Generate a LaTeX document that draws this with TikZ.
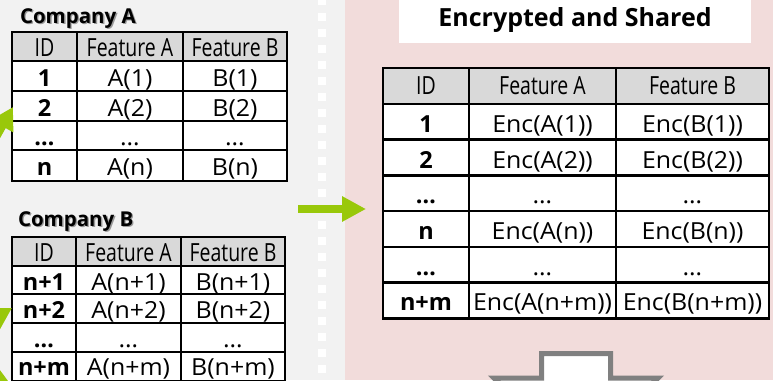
\documentclass[tikz,border=0pt]{standalone}
\usepackage{fontspec}
\usetikzlibrary{arrows.meta}
\setmainfont{Open Sans}
\newfontfamily\valfont{Open Sans}[FakeStretch=1.06]
\newfontfamily\hdfont{Open Sans}[FakeStretch=0.78]

\definecolor{leftbg}{RGB}{242,242,242}
\definecolor{rightbg}{RGB}{242,220,219}
\definecolor{hdrgray}{RGB}{217,217,217}
\definecolor{arrowgreen}{RGB}{153,200,10}
\definecolor{blockgray}{RGB}{128,128,128}

\tikzset{
  gridline/.style={line width=2.6pt, line cap=rect},
  txt/.style={anchor=base, inner sep=0pt, outer sep=0pt},
  hdr/.style={txt, font=\hdfont\fontsize{25}{25}\selectfont},
  idc/.style={txt, font=\bfseries\fontsize{23.5}{23.5}\selectfont},
  val/.style={txt, font=\valfont\fontsize{23.5}{23.5}\selectfont},
  label/.style={anchor=base west, inner sep=0pt, outer sep=0pt, font=\bfseries\fontsize{20.5}{20.5}\selectfont},
  shadowtxt/.style={label, text=black!40},
  greenarrow/.style={arrowgreen, line width=8pt, -{Triangle[length=22pt, width=24pt]}},
}

\begin{document}
\begin{tikzpicture}[x=1pt, y=-1pt]
\useasboundingbox (0,0) rectangle (773,380);
\clip (0,0) rectangle (773,380);

% backgrounds and the dashed divider
\fill[leftbg] (0,0) rectangle (345,380);
\fill[rightbg] (345,0) rectangle (773,380);
\draw[white, line width=8pt, dash pattern=on 8pt off 8pt] (322,-3) -- (322,384);

% ---------------- Company A ----------------
\node[shadowtxt] (labAsh) at (21.3,24.6) {Company A};
\node[label] (labA) at (20,23.3) {Company A};
\fill[white] (12,32) rectangle (287,181);
\fill[hdrgray] (12,32) rectangle (287,61);
\foreach \x in {12,77,183,287} \draw[gridline] (\x,32) -- (\x,181);
\foreach \y in {32,61,91,121,150,181} \draw[gridline] (12,\y) -- (287,\y);
\node[hdr] (A-h1) at (44.5,56.5) {ID};
\node[hdr] (A-h2) at (130,56.5) {Feature A};
\node[hdr] (A-h3) at (235,56.5) {Feature B};
\node[idc] (A-11) at (44.5,86.5) {1};
\node[val] (A-12) at (130,86.5) {A(1)};
\node[val] (A-13) at (235,86.5) {B(1)};
\node[idc] (A-21) at (44.5,116.5) {2};
\node[val] (A-22) at (130,116.5) {A(2)};
\node[val] (A-23) at (235,116.5) {B(2)};
\node[idc] (A-31) at (44.5,145.5) {…};
\node[val] (A-32) at (130,145.5) {…};
\node[val] (A-33) at (235,145.5) {…};
\node[idc] (A-41) at (44.5,175.5) {n};
\node[val] (A-42) at (130,175.5) {A(n)};
\node[val] (A-43) at (235,175.5) {B(n)};

% ---------------- Company B ----------------
\node[shadowtxt] (labBsh) at (19.3,227.3) {Company B};
\node[label] (labB) at (18,226) {Company B};
\fill[white] (12,237) rectangle (285,381);
\fill[hdrgray] (12,237) rectangle (285,266);
\foreach \x in {12,76,181,285} \draw[gridline] (\x,237) -- (\x,381);
\foreach \y in {237,266,294,323,352,381} \draw[gridline] (12,\y) -- (285,\y);
\node[hdr] (B-h1) at (44,261.5) {ID};
\node[hdr] (B-h2) at (128.5,261.5) {Feature A};
\node[hdr] (B-h3) at (233,261.5) {Feature B};
\node[idc] (B-11) at (44,290) {n+1};
\node[val] (B-12) at (128.5,290) {A(n+1)};
\node[val] (B-13) at (233,290) {B(n+1)};
\node[idc] (B-21) at (44,318.5) {n+2};
\node[val] (B-22) at (128.5,318.5) {A(n+2)};
\node[val] (B-23) at (233,318.5) {B(n+2)};
\node[idc] (B-31) at (44,347.5) {…};
\node[val] (B-32) at (128.5,347.5) {…};
\node[val] (B-33) at (233,347.5) {…};
\node[idc] (B-41) at (44,375.5) {n+m};
\node[val] (B-42) at (128.5,375.5) {A(n+m)};
\node[val] (B-43) at (233,375.5) {B(n+m)};

% green arrows entering from the left edge
\coordinate (srcA) at (-27,178);
\coordinate (tipA) at (13,107);
\coordinate (srcB) at (-60,350);
\coordinate (tipB) at (12,308);
\coordinate (srcC) at (-60,356);
\coordinate (tipC) at (12,386);
\draw[greenarrow] (srcA) -- (tipA);
\draw[greenarrow] (srcB) -- (tipB);
\draw[greenarrow] (srcC) -- (tipC);

% arrow towards the shared table
\coordinate (midS) at (298,209);
\coordinate (midT) at (366,209);
\draw[arrowgreen, line width=8pt, -{Triangle[length=24pt, width=24pt]}] (midS) -- (midT);

% ---------------- Encrypted and Shared ----------------
\fill[white] (399,-5) rectangle (751,43);
\node[txt, font=\bfseries\fontsize{25}{25}\selectfont] (title) at (575,26) {Encrypted and Shared};

\fill[white] (383,68) rectangle (769,318.3);
\fill[hdrgray] (383,68) rectangle (769,104);
\foreach \x in {383,469,616,769} \draw[gridline] (\x,68) -- (\x,318.3);
\foreach \y in {68,104,139.7,175.4,211.1,246.9,282.6,318.3} \draw[gridline] (383,\y) -- (769,\y);
\node[hdr] (S-h1) at (426,94) {ID};
\node[hdr] (S-h2) at (542.5,94) {Feature A};
\node[hdr] (S-h3) at (692.5,94) {Feature B};
\node[idc] (S-11) at (426,132.4) {1};
\node[val] (S-12) at (542.5,132.4) {Enc(A(1))};
\node[val] (S-13) at (692.5,132.4) {Enc(B(1))};
\node[idc] (S-21) at (426,168.1) {2};
\node[val] (S-22) at (542.5,168.1) {Enc(A(2))};
\node[val] (S-23) at (692.5,168.1) {Enc(B(2))};
\node[idc] (S-31) at (426,203.8) {…};
\node[val] (S-32) at (542.5,203.8) {…};
\node[val] (S-33) at (692.5,203.8) {…};
\node[idc] (S-41) at (426,239.5) {n};
\node[val] (S-42) at (542.5,239.5) {Enc(A(n))};
\node[val] (S-43) at (692.5,239.5) {Enc(B(n))};
\node[idc] (S-51) at (426,275.2) {…};
\node[val] (S-52) at (542.5,275.2) {…};
\node[val] (S-53) at (692.5,275.2) {…};
\node[idc] (S-61) at (426,310.9) {n+m};
\node[val] (S-62) at (542.5,310.9) {Enc(A(n+m))};
\node[val] (S-63) at (692.5,310.9) {Enc(B(n+m))};

% hollow block arrow pointing down, cut by the lower edge
\filldraw[draw=blockgray, fill=white, line width=5pt, line join=miter]
  (541.5,353.5) -- (610.5,353.5) -- (610.5,378) -- (658,378)
  -- (576,460) -- (494,378) -- (541.5,378) -- cycle;
\end{tikzpicture}
\end{document}
